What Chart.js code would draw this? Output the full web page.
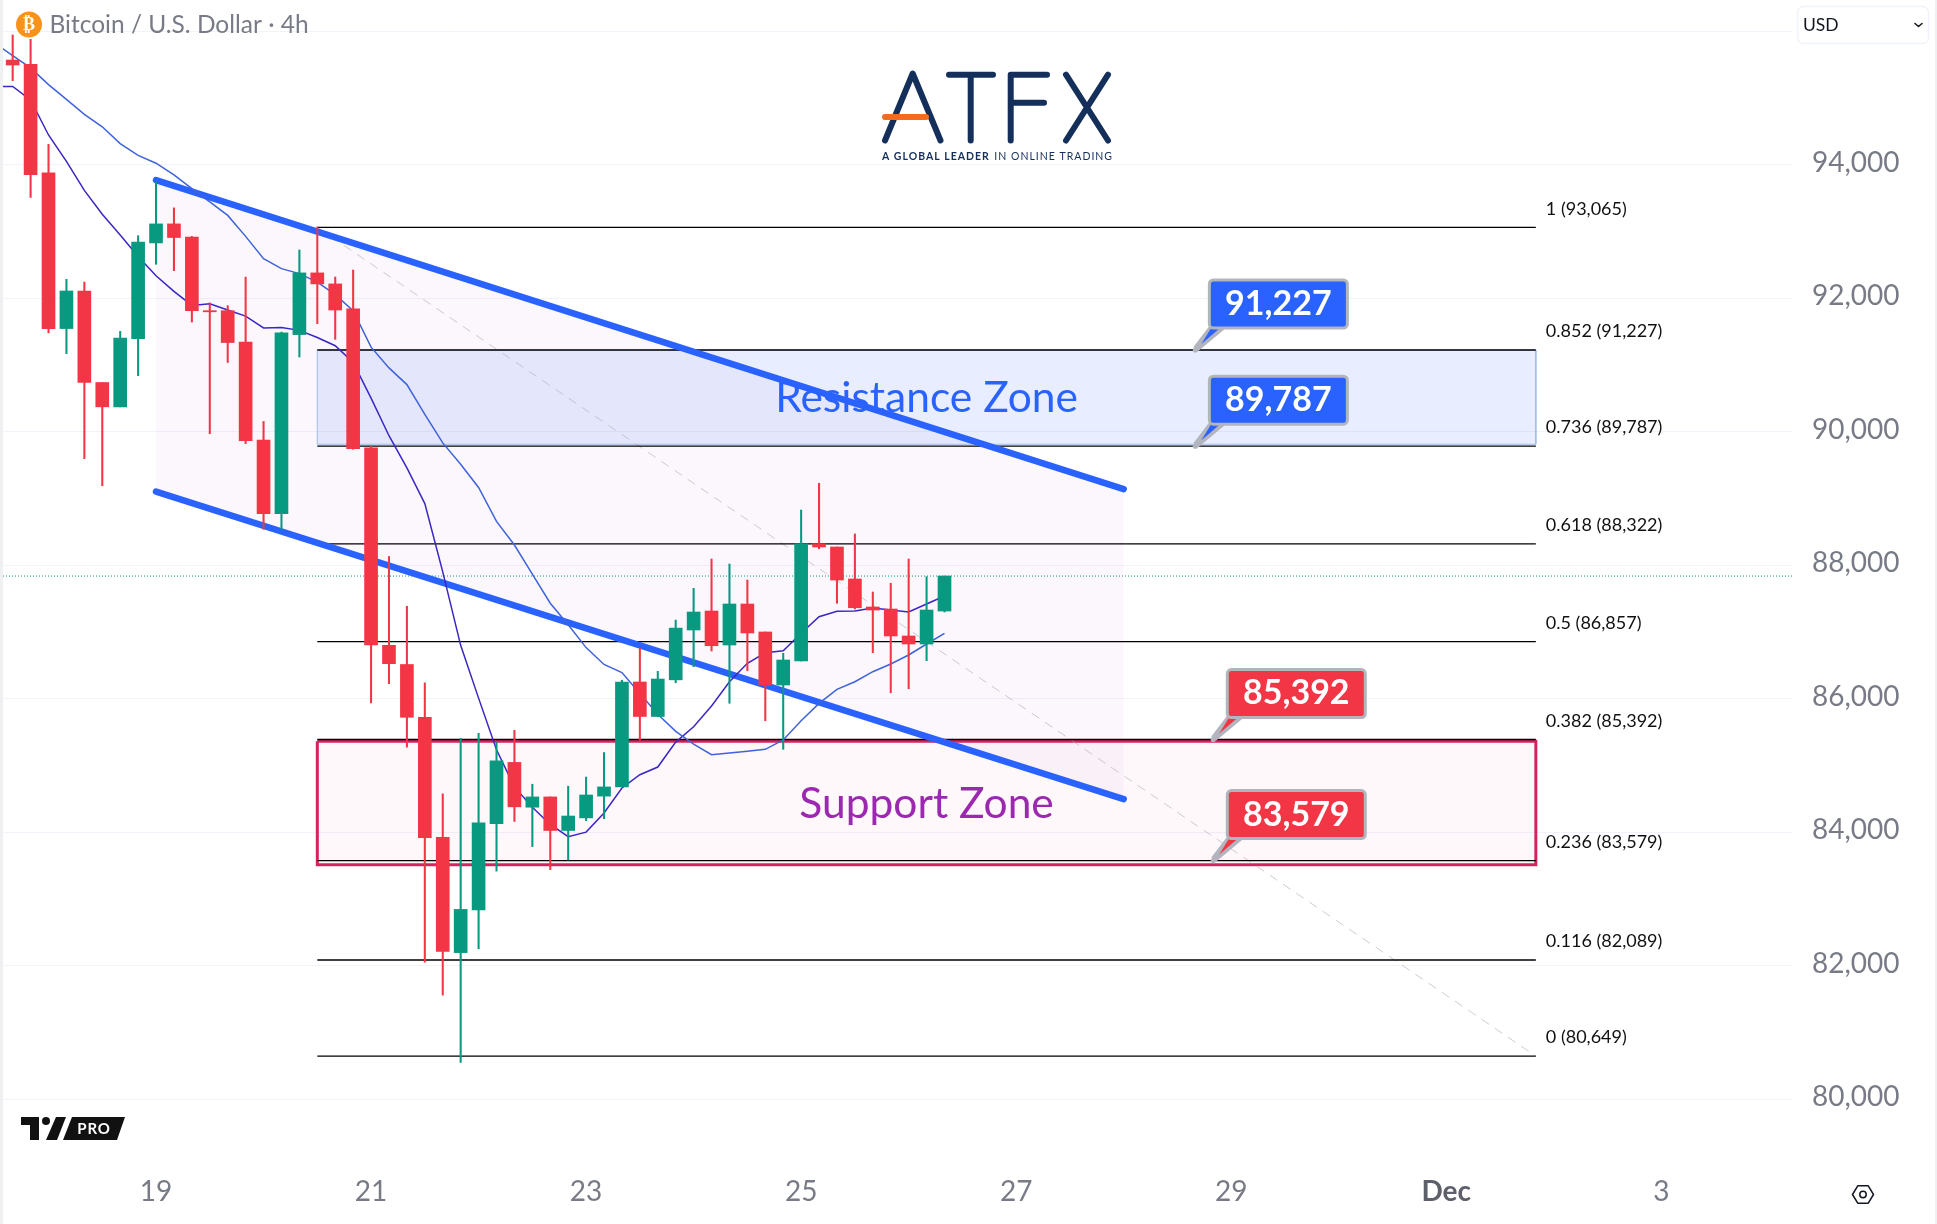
<!DOCTYPE html>
<html>
<head>
<meta charset="utf-8">
<title>Bitcoin / U.S. Dollar 4h</title>
<style>
  html, body { margin: 0; padding: 0; background: #fff; overflow: hidden; }
  canvas { display: block; }
</style>
<script src="https://cdn.jsdelivr.net/npm/chart.js@4/dist/chart.umd.js"></script>
</head>
<body>
<canvas id="btcChart" width="1937" height="1224"></canvas>
<script>
'use strict';

// candles, one per 4h bar
const opens = [95571, 95507, 93880, 91548, 92111, 90740, 90376, 91398, 92831, 93116, 92918, 91816, 91816, 91345, 89879, 88776, 91458, 92382, 92217, 91843, 89761, 86803, 86516, 85725, 83926, 82200, 82841, 84131, 85049, 84378, 84532, 84029, 84218, 84544, 84682, 86254, 85737, 86286, 87033, 87317, 86808, 87422, 87003, 86209, 86568, 88325, 88276, 87797, 87377, 87347, 86943, 86823, 87317];
const highs = [95946, 95881, 94308, 92286, 92245, 90740, 91506, 92939, 93743, 93356, 92929, 91932, 91891, 92319, 90157, 91495, 92725, 93070, 92320, 92425, 89793, 88134, 87388, 86242, 84578, 85410, 85485, 85353, 85530, 84722, 84532, 84693, 84830, 85197, 86280, 86757, 86413, 87181, 87657, 88096, 88021, 87781, 87003, 86683, 88830, 89230, 88276, 88471, 87602, 87732, 88096, 87831, 87841];
const lows = [95261, 93512, 91483, 91173, 89600, 89194, 90376, 90842, 92511, 92415, 91646, 89974, 91040, 89825, 88541, 88541, 91122, 91622, 91387, 89740, 85939, 86229, 85278, 82056, 81563, 80554, 82257, 83421, 84165, 83788, 83443, 83587, 84177, 84206, 84682, 85382, 85737, 86242, 86483, 86718, 85935, 86423, 85674, 85245, 86568, 88250, 87433, 87347, 86692, 86093, 86153, 86573, 87302];
const closes = [95496, 93854, 91548, 92111, 90740, 90376, 91404, 92843, 93116, 92912, 91816, 91799, 91339, 89868, 88776, 91483, 92382, 92217, 91826, 89750, 86808, 86528, 85725, 83920, 82216, 82847, 84143, 85072, 84384, 84532, 84029, 84246, 84561, 84682, 86254, 85737, 86298, 87061, 87302, 86797, 87422, 86988, 86209, 86583, 88325, 88276, 87781, 87366, 87332, 86943, 86823, 87332, 87841];

// moving averages, first value belongs to the bar left of the first candle
const slowMa = [95823, 95636, 95453, 95203, 94982, 94758, 94571, 94319, 94142, 94025, 93849, 93645, 93447, 93243, 92929, 92596, 92446, 92371, 92244, 92057, 91816, 91270, 90959, 90709, 90264, 89835, 89515, 89167, 88659, 88306, 87870, 87434, 87112, 86769, 86516, 86396, 86081, 85771, 85514, 85323, 85164, 85190, 85215, 85245, 85385, 85674, 85934, 86144, 86258, 86408, 86523, 86658, 86823, 86983];
const fastMa = [95176, 95176, 94972, 94448, 94052, 93618, 93260, 92950, 92629, 92340, 92105, 91895, 91918, 91826, 91735, 91558, 91564, 91521, 91414, 91291, 91040, 90505, 89943, 89461, 88926, 87904, 86803, 86012, 85238, 84682, 84378, 84120, 83936, 84005, 84291, 84666, 84865, 84980, 85353, 85584, 85894, 86258, 86534, 86692, 86722, 86983, 87232, 87313, 87317, 87362, 87332, 87302, 87422, 87542];

// fibonacci retracement
const fibRatios = ['1', '0.852', '0.736', '0.618', '0.5', '0.382', '0.236', '0.116', '0'];
const fibPrices = [93065, 91227, 89787, 88322, 86857, 85392, 83579, 82089, 80649];
const fibBars = [17, 85];

// channel drawn on the chart
const channelBars = [8, 62];
const channelUpper = [93773, 89143];
const channelLower = [89106, 84500];

// zones
const resistanceZone = [91227, 89815];
const supportZone = [85365, 83515];

// price callouts
const calloutPrices = [91227, 89787, 85392, 83579];
const calloutBars = [66, 66, 67, 67];

// axes
const yTickValues = [80000, 82000, 84000, 86000, 88000, 90000, 92000, 94000, 96000];
const yTickLabels = ['80,000', '82,000', '84,000', '86,000', '88,000', '90,000', '92,000', '94,000', ''];
const xTickBars = [8, 20, 32, 44, 56, 68, 80, 92];
const xTickLabels = ['19', '21', '23', '25', '27', '29', 'Dec', '3'];
const xRange = [-0.54, 99.295];
const yRange = [79243, 96470];

const UP = '#089981';
const DOWN = '#f23645';
const BLUE = '#2962ff';
const GRAY_TEXT = '#787b86';
const NAVY = '#14305a';
const FONT = 'Lato, "Open Sans", sans-serif';

const candleColors = opens.map((o, i) => (closes[i] >= o ? UP : DOWN));
const lastClose = closes[closes.length - 1];

function linePoints(bars, values) {
  return bars.map((b, i) => ({ x: b, y: values[i] }));
}
function maPoints(values) {
  return values.map((v, i) => ({ x: i - 1, y: v }));
}
function boxPoints(bars, zone) {
  return [
    { x: bars[0], y: zone[0] },
    { x: bars[1], y: zone[0] },
    { x: bars[1], y: zone[1] },
    { x: bars[0], y: zone[1] },
    { x: bars[0], y: zone[0] },
  ];
}
function plainLine(extra) {
  return Object.assign({ type: 'line', pointRadius: 0, fill: false, tension: 0, borderWidth: 1 }, extra);
}

const datasets = [
  // channel background
  plainLine({ data: linePoints(channelBars, channelUpper), borderWidth: 0, fill: '+1', backgroundColor: 'rgba(156,39,176,0.04)', order: 20 }),
  plainLine({ data: linePoints(channelBars, channelLower), borderWidth: 0, order: 20 }),
  // zones
  plainLine({ data: linePoints(fibBars, [resistanceZone[0], resistanceZone[0]]), borderWidth: 0, fill: { target: { value: resistanceZone[1] } }, backgroundColor: 'rgba(41,98,255,0.11)', order: 19 }),
  plainLine({ data: linePoints(fibBars, [supportZone[0], supportZone[0]]), borderWidth: 0, fill: { target: { value: supportZone[1] } }, backgroundColor: 'rgba(233,30,99,0.03)', order: 19 }),
  plainLine({ data: boxPoints(fibBars, resistanceZone), borderColor: '#9dbdf0', order: 18 }),
  plainLine({ data: boxPoints(fibBars, supportZone), borderColor: '#d3245f', borderWidth: 3, order: 18 }),
  // diagonal of the fib
  plainLine({ data: linePoints(fibBars, [fibPrices[0], fibPrices[fibPrices.length - 1]]), borderColor: 'rgba(170,170,180,0.6)', borderDash: [9, 7], order: 17 }),
];
// fib levels
fibPrices.forEach((p) => {
  datasets.push(plainLine({ data: linePoints(fibBars, [p, p]), borderColor: '#000', borderWidth: 1.3, order: 16 }));
});
datasets.push(
  // last price
  plainLine({ data: linePoints(xRange, [lastClose, lastClose]), borderColor: UP, borderDash: [1, 2], order: 15 }),
  // channel lines
  plainLine({ data: linePoints(channelBars, channelUpper), borderColor: BLUE, borderWidth: 6.5, borderCapStyle: 'round', order: 14 }),
  plainLine({ data: linePoints(channelBars, channelLower), borderColor: BLUE, borderWidth: 6.5, borderCapStyle: 'round', order: 14 }),
  // moving averages
  plainLine({ data: maPoints(slowMa), borderColor: '#3f63d9', borderWidth: 1.5, order: 13 }),
  plainLine({ data: maPoints(fastMa), borderColor: '#3a26c4', borderWidth: 1.5, order: 13 }),
  // candles
  {
    type: 'bar',
    data: lows.map((l, i) => ({ x: i, y: [l, highs[i]] })),
    backgroundColor: candleColors,
    barThickness: 1.4,
    grouped: false,
    order: 2,
  },
  {
    type: 'bar',
    data: opens.map((o, i) => ({ x: i, y: [o, closes[i]] })),
    backgroundColor: candleColors,
    barThickness: 13,
    grouped: false,
    order: 1,
  }
);

// text and decorations that are not series
const decorations = {
  id: 'decorations',
  beforeDraw(chart) {
    const c = chart.ctx;
    c.save();
    c.fillStyle = '#fff';
    c.fillRect(0, 0, chart.width, chart.height);
    c.fillStyle = '#f0f0f3';
    c.fillRect(0, 0, 3, chart.height);
    c.fillRect(1935, 0, 2, chart.height);
    c.restore();
  },
  afterDatasetsDraw(chart) {
    const c = chart.ctx;
    const x = chart.scales.x;
    const y = chart.scales.y;
    c.save();
    c.textBaseline = 'middle';

    // fib labels
    c.fillStyle = '#111';
    c.textAlign = 'left';
    c.font = '18px ' + FONT;
    fibPrices.forEach((p, i) => {
      const label = fibRatios[i] + ' (' + p.toLocaleString('en-US') + ')';
      c.fillText(label, x.getPixelForValue(fibBars[1]) + 10, y.getPixelForValue(p) - 18.5);
    });

    // zone names
    c.textAlign = 'center';
    c.font = '42.5px ' + FONT;
    const midBar = (fibBars[0] + fibBars[1]) / 2;
    c.fillStyle = BLUE;
    c.fillText('Resistance Zone', x.getPixelForValue(midBar), y.getPixelForValue((resistanceZone[0] + resistanceZone[1]) / 2) + 1);
    c.fillStyle = '#9c27b0';
    c.fillText('Support Zone', x.getPixelForValue(midBar), y.getPixelForValue((supportZone[0] + supportZone[1]) / 2) + 1);

    // callouts
    calloutPrices.forEach((p, i) => {
      const ax = x.getPixelForValue(calloutBars[i]);
      const ay = y.getPixelForValue(p);
      const color = i < 2 ? BLUE : DOWN;
      // tail
      c.fillStyle = '#b2b5be';
      c.beginPath();
      c.moveTo(ax - 2, ay - 3);
      c.lineTo(ax + 14, ay - 24);
      c.lineTo(ax + 33, ay - 24);
      c.lineTo(ax + 3, ay + 1);
      c.closePath();
      c.fill();
      c.beginPath();
      c.arc(ax, ay, 2.6, 0, Math.PI * 2);
      c.fill();
      c.fillStyle = color;
      c.beginPath();
      c.moveTo(ax + 6, ay - 6);
      c.lineTo(ax + 17, ay - 24);
      c.lineTo(ax + 27, ay - 24);
      c.closePath();
      c.fill();
      // box
      c.beginPath();
      c.roundRect(ax + 14, ay - 70, 138, 48, 4);
      c.fillStyle = color;
      c.fill();
      c.lineWidth = 3;
      c.strokeStyle = '#b2b5be';
      c.stroke();
      c.fillStyle = '#fff';
      c.font = 'bold 34px ' + FONT;
      c.textAlign = 'center';
      c.fillText(p.toLocaleString('en-US'), ax + 83, ay - 46);
    });

    // header
    c.fillStyle = '#f7931a';
    c.beginPath();
    c.arc(29, 24.5, 13, 0, Math.PI * 2);
    c.fill();
    c.fillStyle = '#fff';
    c.font = 'bold 18px "DejaVu Sans"';
    c.fillText('\u20bf', 29, 25);
    c.fillStyle = GRAY_TEXT;
    c.textAlign = 'left';
    c.font = '24.5px ' + FONT;
    c.fillText('Bitcoin / U.S. Dollar \u00b7 4h', 49.5, 25);

    // ATFX logo
    c.lineCap = 'round';
    c.lineJoin = 'round';
    c.lineWidth = 6;
    c.strokeStyle = NAVY;
    c.beginPath();
    c.moveTo(885, 140.5); c.lineTo(912.7, 73.5); c.lineTo(940.5, 140.5);
    c.moveTo(949, 74.7); c.lineTo(993, 74.7);
    c.moveTo(970.7, 74.7); c.lineTo(970.7, 140.5);
    c.moveTo(1047, 74.7); c.lineTo(1010.7, 74.7); c.lineTo(1010.7, 140.5);
    c.moveTo(1010.7, 102.7); c.lineTo(1044, 102.7);
    c.moveTo(1066, 74.7); c.lineTo(1108, 140.5);
    c.moveTo(1108, 74.7); c.lineTo(1066, 140.5);
    c.stroke();
    c.strokeStyle = '#f26b21';
    c.beginPath();
    c.moveTo(885, 117); c.lineTo(926, 117);
    c.stroke();
    c.fillStyle = NAVY;
    c.letterSpacing = '1px';
    c.font = 'bold 10.5px ' + FONT;
    c.fillText('A GLOBAL LEADER', 882, 156.5);
    const w = c.measureText('A GLOBAL LEADER ').width;
    c.font = '10.5px ' + FONT;
    c.fillText('IN ONLINE TRADING', 882 + w + 1, 156.5);
    c.letterSpacing = '0px';

    // TV PRO badge
    c.fillStyle = '#111';
    c.fillRect(21, 1117, 17, 8);
    c.fillRect(30, 1117, 9, 23);
    c.beginPath();
    c.arc(46, 1121, 4, 0, Math.PI * 2);
    c.fill();
    c.beginPath();
    c.moveTo(56, 1117); c.lineTo(66, 1117); c.lineTo(57, 1140); c.lineTo(46, 1140);
    c.closePath();
    c.fill();
    c.beginPath();
    c.moveTo(72, 1117); c.lineTo(125, 1117); c.lineTo(117, 1140); c.lineTo(63, 1140);
    c.closePath();
    c.fill();
    c.fillStyle = '#fff';
    c.textAlign = 'center';
    c.font = 'bold 15px ' + FONT;
    c.letterSpacing = '0.8px';
    c.fillText('PRO', 94, 1129);
    c.letterSpacing = '0px';

    // currency box
    c.strokeStyle = '#f0f3fa';
    c.lineWidth = 1.5;
    c.fillStyle = '#fff';
    c.beginPath();
    c.roundRect(1797.5, 6.5, 131, 37, 6);
    c.fill();
    c.stroke();
    c.fillStyle = '#131722';
    c.textAlign = 'left';
    c.font = '17.5px ' + FONT;
    c.fillText('USD', 1803, 25);
    c.strokeStyle = '#131722';
    c.lineWidth = 1.6;
    c.beginPath();
    c.moveTo(1915, 23.5); c.lineTo(1918.5, 26.5); c.lineTo(1922, 23.5);
    c.stroke();

    // settings icon
    c.strokeStyle = '#131722';
    c.lineWidth = 1.5;
    c.beginPath();
    for (let k = 0; k < 6; k++) {
      const a = (Math.PI / 3) * k;
      const hx = 1863 + 10.5 * Math.cos(a);
      const hy = 1194.5 + 10 * Math.sin(a);
      if (k === 0) c.moveTo(hx, hy);
      else c.lineTo(hx, hy);
    }
    c.closePath();
    c.stroke();
    c.beginPath();
    c.arc(1863, 1194.5, 3.2, 0, Math.PI * 2);
    c.stroke();
    c.restore();
  },
};

new Chart(document.getElementById('btcChart').getContext('2d'), {
  type: 'bar',
  data: { datasets },
  plugins: [decorations],
  options: {
    responsive: false,
    devicePixelRatio: 1,
    animation: false,
    layout: { padding: { left: 3, right: 0, top: 0, bottom: 0 } },
    plugins: { legend: { display: false }, tooltip: { enabled: false } },
    scales: {
      x: {
        type: 'linear',
        offset: false,
        min: xRange[0],
        max: xRange[1],
        grid: { display: false, drawTicks: false },
        border: { display: false },
        afterBuildTicks(scale) {
          scale.ticks = xTickBars.map((v) => ({ value: v }));
        },
        afterFit(scale) {
          scale.height = 74;
          scale.paddingLeft = 0;
          scale.paddingRight = 0;
        },
        ticks: {
          autoSkip: false,
          maxRotation: 0,
          padding: 25,
          color: (ctx) => (ctx.index === 6 ? '#5d606b' : GRAY_TEXT),
          font: (ctx) => ({ family: FONT, size: 28, weight: ctx.index === 6 ? 'bold' : 'normal' }),
          callback: (v, i) => xTickLabels[i],
        },
      },
      y: {
        position: 'right',
        min: yRange[0],
        max: yRange[1],
        grid: { color: '#f0f3fa', lineWidth: 1, drawTicks: false },
        border: { display: false },
        afterBuildTicks(scale) {
          scale.ticks = yTickValues.map((v) => ({ value: v }));
        },
        afterFit(scale) {
          scale.width = 145;
          scale.paddingTop = 0;
          scale.paddingBottom = 0;
        },
        ticks: {
          autoSkip: false,
          padding: 20,
          labelOffset: -2,
          color: GRAY_TEXT,
          font: { family: FONT, size: 28 },
          callback: (v, i) => yTickLabels[i],
        },
      },
    },
  },
});
</script>
</body>
</html>
